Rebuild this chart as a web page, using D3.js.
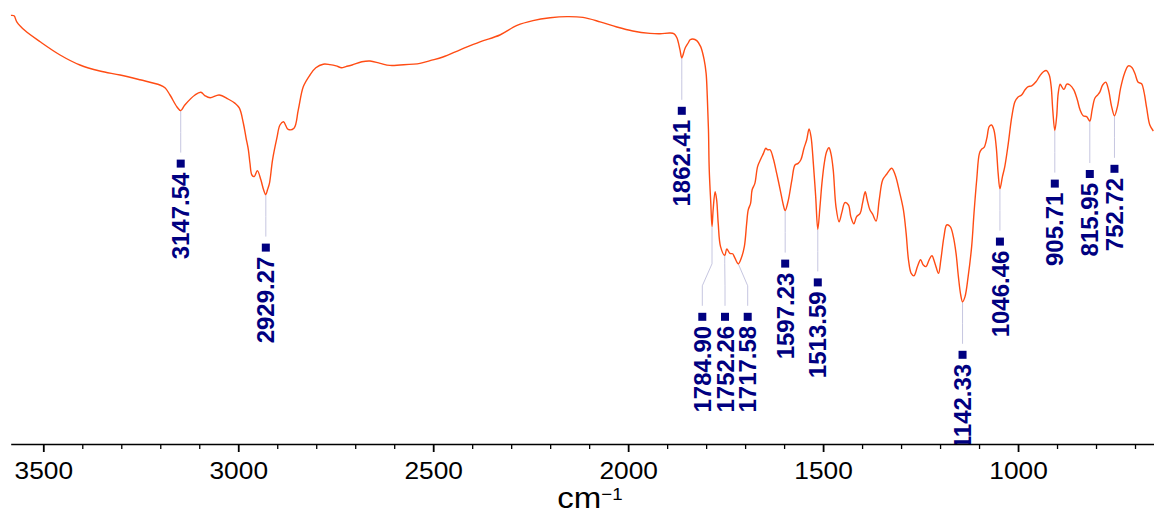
<!DOCTYPE html>
<html>
<head>
<meta charset="utf-8">
<script src="https://cdn.jsdelivr.net/npm/d3@7"></script>
<style>
  body { margin: 0; background: #fff; }
  svg { display: block; }
</style>
</head>
<body>
<svg id="chart"></svg>
<script>
// IR spectrum, [wavenumber cm-1, transmittance %]
const spectrum = [
  [3583, 96.9], [3575, 96.8], [3568, 95.3], [3547, 93.1], [3508, 90.3], [3457, 87.0],
  [3406, 84.5], [3355, 83.0], [3303, 82.0], [3252, 80.8], [3201, 79.5], [3188, 78.8],
  [3175, 77.0], [3157, 74.0], [3147.54, 73.1], [3137, 74.5], [3111, 77.0], [3096, 77.7],
  [3085, 76.8], [3072, 76.3], [3049, 77.0], [3026, 76.0], [3008, 74.9], [2997, 73.7],
  [2987, 70.0], [2980, 66.3], [2974, 63.3], [2970, 60.0], [2965, 57.0], [2959, 56.6],
  [2951, 58.1], [2942, 55.8], [2935, 53.3], [2929.27, 52.1], [2925, 53.3], [2920, 54.9],
  [2912, 60.8], [2901, 66.2], [2893, 69.5], [2884, 70.3], [2872, 68.4], [2857, 68.7],
  [2846, 73.3], [2833, 79.1], [2816, 82.0], [2801, 83.8], [2782, 84.7], [2765, 84.6],
  [2749, 84.3], [2735, 83.8], [2724, 84.1], [2708, 84.5], [2683, 85.3], [2662, 85.5],
  [2636, 84.9], [2611, 84.4], [2585, 84.5], [2534, 84.9], [2508, 85.6], [2475, 86.5],
  [2431, 88.3], [2380, 90.3], [2329, 92.0], [2285, 94.4], [2244, 95.6], [2200, 96.3],
  [2157, 96.6], [2116, 96.4], [2072, 95.3], [2029, 94.0], [1988, 93.0], [1944, 92.4],
  [1918, 92.3], [1893, 92.5], [1882, 92.3], [1875, 91.3], [1867, 88.3], [1862.41, 86.3],
  [1854, 88.7], [1846, 90.0], [1841, 90.8], [1834, 91.0], [1824, 90.6], [1814, 89.1],
  [1805, 85.8], [1800, 82.4], [1797, 76.6], [1794, 68.3], [1792, 58.3], [1788, 49.9],
  [1784.90, 44.1], [1782, 48.3], [1777, 52.8], [1773, 50.8], [1769, 44.9], [1763, 39.1],
  [1752.26, 36.9], [1747, 38.5], [1739, 37.4], [1732, 37.3], [1726, 36.2], [1717.58, 34.8],
  [1710, 36.2], [1702, 39.1], [1696, 44.9], [1692, 48.3], [1686, 49.9], [1682, 53.3],
  [1675, 54.9], [1668, 59.1], [1659, 61.2], [1653, 62.4], [1647, 63.7], [1642, 63.3],
  [1636, 63.3], [1628, 61.2], [1619, 57.4], [1610, 53.3], [1602, 49.5], [1597.23, 48.1],
  [1589, 50.8], [1580, 55.8], [1572, 59.5], [1564, 59.9], [1557, 60.8], [1549, 63.7],
  [1542, 65.8], [1536, 68.5], [1531, 66.6], [1525, 59.9], [1519, 51.6], [1513.59, 43.4],
  [1508, 49.1], [1503, 54.9], [1497, 59.9], [1491, 62.8], [1485, 63.8], [1480, 62.4],
  [1474, 58.3], [1467, 49.1], [1459, 45.3], [1452, 47.6], [1444, 50.1], [1435, 49.5],
  [1429, 46.6], [1421, 44.8], [1414, 46.6], [1405, 47.4], [1399, 49.9], [1392, 52.8],
  [1387, 50.8], [1380, 48.3], [1373, 47.2], [1364, 45.5], [1356, 50.8], [1347, 55.8],
  [1337, 57.2], [1324, 58.7], [1315, 57.0], [1304, 52.8], [1294, 48.3], [1287, 42.4],
  [1281, 35.8], [1274, 32.4], [1267, 31.8], [1258, 34.1], [1250, 35.8], [1243, 34.5],
  [1236, 34.1], [1228, 35.8], [1221, 36.8], [1213, 34.9], [1204, 32.4], [1198, 35.8],
  [1190, 41.6], [1183, 44.5], [1174, 44.1], [1166, 41.6], [1159, 37.4], [1153, 31.6],
  [1147, 27.0], [1142.33, 25.3], [1136, 26.6], [1128, 31.6], [1119, 39.1], [1113, 47.4],
  [1106, 55.8], [1099, 62.4], [1093, 63.5], [1087, 63.9], [1080, 66.2], [1074, 69.1],
  [1068, 69.5], [1062, 68.3], [1056, 64.1], [1051, 57.4], [1046.46, 53.6], [1040, 56.6],
  [1034, 59.1], [1025, 64.9], [1016, 71.6], [1008, 75.3], [1001, 76.4], [991, 77.0],
  [982, 78.3], [974, 79.1], [965, 79.3], [954, 80.3], [944, 81.8], [935, 82.8],
  [927, 83.1], [920, 82.0], [915, 79.1], [911, 73.3], [905.71, 68.1], [901, 71.6],
  [897, 77.4], [892, 79.7], [888, 79.1], [882, 78.4], [875, 79.7], [867, 79.5],
  [857, 78.3], [848, 75.8], [841, 73.3], [833, 71.8], [824, 71.6], [815.95, 70.5],
  [810, 73.3], [803, 76.2], [796, 77.0], [790, 77.8], [783, 79.5], [775, 80.2],
  [768, 78.3], [760, 74.1], [752.72, 71.8], [745, 74.1], [737, 78.7], [727, 82.4],
  [717, 84.3], [708, 83.9], [700, 82.3], [692, 80.2], [683, 79.8], [677, 77.8],
  [670, 73.7], [662, 69.5], [653, 68.0]
];

const peakWavenumbers = [3147.54, 2929.27, 1862.41, 1784.90, 1752.26, 1717.58,
  1597.23, 1513.59, 1142.33, 1046.46, 905.71, 815.95, 752.72];

const majorTicks = [3500, 3000, 2500, 2000, 1500, 1000];
const minorTicks = [3400, 3300, 3200, 3100, 2900, 2800, 2700, 2600, 2400, 2300, 2200, 2100,
  1900, 1800, 1700, 1600, 1400, 1300, 1200, 1100, 900, 800, 700];

const width = 1154, height = 515;
const axisY = 444;

const svg = d3.select('#chart')
  .attr('width', width)
  .attr('height', height);

const x = d3.scaleLinear()
  .domain([3583.6, 651.3])
  .range([10.7, width]);

const y = d3.scaleLinear()
  .domain([-10, 100])
  .range([443, 3]);

svg.append('clipPath').attr('id', 'plotClip')
  .append('rect')
  .attr('x', 0).attr('y', 0)
  .attr('width', width).attr('height', axisY);

// value of the spectrum at a wavenumber (linear between read points)
function valueAt(w) {
  for (let i = 0; i < spectrum.length - 1; i++) {
    const a = spectrum[i], b = spectrum[i + 1];
    if (a[0] >= w && b[0] <= w) {
      const t = (a[0] - w) / (a[0] - b[0]);
      return a[1] + t * (b[1] - a[1]);
    }
  }
  return spectrum[spectrum.length - 1][1];
}

// peak labels: crowded peaks get spread apart and share one label height
const marks = peakWavenumbers.map(w => ({ w, px: x(w), py: y(valueAt(w)) }))
  .sort((a, b) => a.px - b.px);

const groups = [];
marks.forEach(m => {
  const last = groups[groups.length - 1];
  if (last && m.px - last[last.length - 1].px < 22) last.push(m);
  else groups.push([m]);
});
groups.forEach(g => {
  const cx = d3.mean(g, d => d.px);
  const ys = d3.max(g, d => d.py) + 53;
  g.forEach((m, i) => {
    m.lx = cx + (i - (g.length - 1) / 2) * 22.7;
    m.ys = ys;
  });
});

const plot = svg.append('g').attr('clip-path', 'url(#plotClip)');

plot.selectAll('path.leader')
  .data(marks)
  .enter()
  .append('path')
  .attr('class', 'leader')
  .attr('d', m => d3.line()([
    [m.px, m.py], [m.px, m.ys - 53], [m.lx, m.ys - 31], [m.lx, m.ys - 11]
  ]))
  .attr('fill', 'none')
  .attr('stroke', '#c6c6e0')
  .attr('stroke-width', 1);

const line = d3.line()
  .x(d => x(d[0]))
  .y(d => y(d[1]))
  .curve(d3.curveCatmullRom.alpha(0.5));

plot.append('path')
  .datum(spectrum)
  .attr('d', line)
  .attr('fill', 'none')
  .attr('stroke', '#ff4c14')
  .attr('stroke-width', 1.4);

plot.selectAll('rect.pk')
  .data(marks)
  .enter()
  .append('rect')
  .attr('class', 'pk')
  .attr('x', m => m.lx - 4)
  .attr('y', m => m.ys - 4)
  .attr('width', 8)
  .attr('height', 8)
  .attr('fill', '#000080');

plot.selectAll('text.pk')
  .data(marks)
  .enter()
  .append('text')
  .attr('class', 'pk')
  .attr('transform', m => `translate(${m.lx},${m.ys + 9}) rotate(-90)`)
  .attr('text-anchor', 'end')
  .attr('dy', '0.36em')
  .style('font-family', '"Liberation Sans", Arial, sans-serif')
  .style('font-weight', 'bold')
  .style('font-size', '24px')
  .attr('fill', '#000080')
  .text(m => m.w.toFixed(2));

// x axis
const axisG = svg.append('g')
  .attr('transform', `translate(0,${axisY})`);

axisG.append('g')
  .call(d3.axisBottom(x).tickValues(minorTicks).tickSize(5).tickSizeOuter(0).tickFormat(''))
  .call(g => g.select('.domain').remove())
  .selectAll('line').attr('stroke-width', 1.3);

axisG.append('g')
  .call(d3.axisBottom(x).tickValues(majorTicks).tickSize(8).tickSizeOuter(0).tickPadding(10).tickFormat(d3.format('d')))
  .call(g => g.select('.domain').attr('stroke-width', 1.3))
  .call(g => g.selectAll('.tick line').attr('stroke-width', 1.8))
  .call(g => g.selectAll('.tick text')
    .attr('transform', 'scale(1.12,1)')
    .style('font-family', '"Liberation Sans", Arial, sans-serif')
    .style('font-size', '23.5px')
    .attr('fill', '#000'));

const title = svg.append('text')
  .attr('transform', `translate(590,508) scale(1.1,1)`)
  .attr('text-anchor', 'middle')
  .style('font-family', '"Liberation Sans", Arial, sans-serif')
  .style('font-size', '30px')
  .attr('fill', '#000');
title.append('tspan').text('cm');
title.append('tspan').attr('dy', -8).style('font-size', '17px').text('\u22121');
</script>
</body>
</html>
